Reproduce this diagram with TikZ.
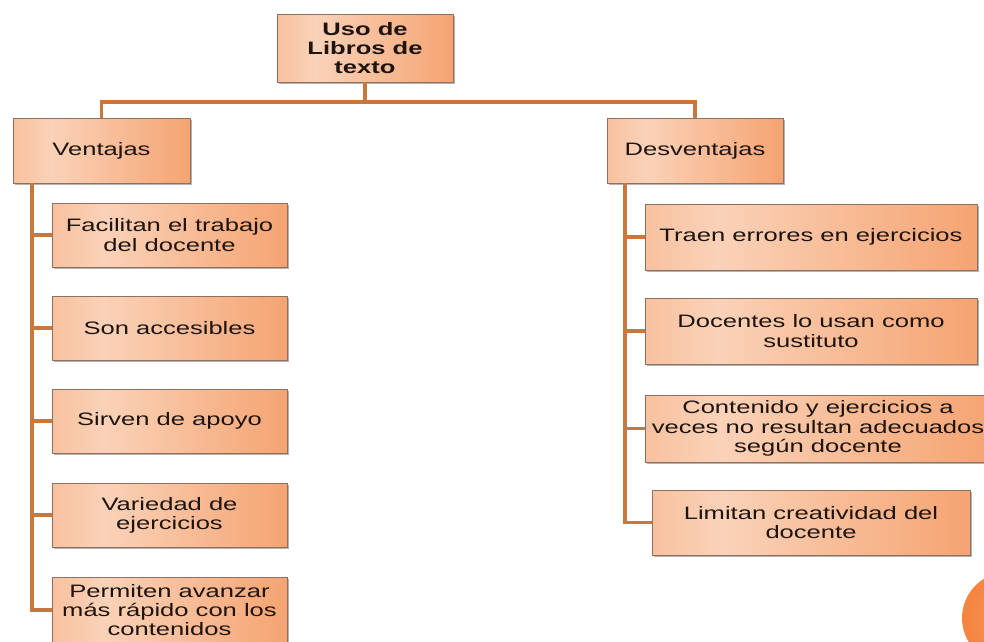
\documentclass[tikz,border=0pt]{standalone}
\usepackage{fontspec}
\setmainfont{Liberation Sans}
\newfontfamily\boxfont[FakeStretch=1.42]{Liberation Sans}
\usetikzlibrary{shadows,calc}
\definecolor{shA}{HTML}{F39A68}
\definecolor{shB}{HTML}{FAD2B8}
\definecolor{shC}{HTML}{F28645}
\definecolor{linec}{HTML}{C8773D}
\definecolor{txtc}{HTML}{1E140F}
\definecolor{bordc}{HTML}{8E7060}
\definecolor{dotc}{HTML}{F5843E}
\pgfdeclarehorizontalshading{boxshade}{100bp}{color(0bp)=(shA); color(36bp)=(shB); color(100bp)=(shC)}
\begin{document}
\begin{tikzpicture}[x=1pt,y=-1pt,
  boxnode/.style={draw=bordc, line width=0.9pt, shading=boxshade, inner sep=0pt,
    align=center, text=txtc, font=\boxfont\fontsize{18pt}{19.3pt}\selectfont,
    drop shadow={shadow xshift=1.6pt, shadow yshift=-2pt, opacity=0.4, fill=black!75}},
  conn/.style={draw=linec, line width=3.2pt}]
\useasboundingbox (0,0) rectangle (984,641);
\clip (0,0) rectangle (984,641);
% root
\node[boxnode, minimum width=176pt, minimum height=68pt, font=\boxfont\bfseries\fontsize{18pt}{19.3pt}\selectfont] (root) at (365,48) {Uso de\\Libros de\\texto};
% level 1
\node[boxnode, minimum width=177pt, minimum height=65pt] (ven) at (101.5,150.5) {Ventajas};
\node[boxnode, minimum width=176pt, minimum height=65pt] (des) at (695,150.5) {Desventajas};
% left children
\node[boxnode, minimum width=235pt, minimum height=64pt] (l1) at (169.5,235) {Facilitan el trabajo\\del docente};
\node[boxnode, minimum width=235pt, minimum height=64pt] (l2) at (169.5,328) {Son accesibles};
\node[boxnode, minimum width=235pt, minimum height=64pt] (l3) at (169.5,421) {Sirven de apoyo};
\node[boxnode, minimum width=235pt, minimum height=64pt] (l4) at (169.5,515) {Variedad de\\ejercicios};
\node[boxnode, minimum width=235pt, minimum height=66pt] (l5) at (169.5,610) {Permiten avanzar\\más rápido con los\\contenidos};
% right children
\node[boxnode, minimum width=332pt, minimum height=66pt] (r1) at (811,237) {Traen errores en ejercicios};
\node[boxnode, minimum width=332pt, minimum height=66pt] (r2) at (811,331) {Docentes lo usan como\\sustituto};
\node[boxnode, minimum width=346pt, minimum height=67pt] (r3) at (818,428.5) {Contenido y ejercicios a\\veces no resultan adecuados\\según docente};
\node[boxnode, minimum width=318pt, minimum height=65pt] (r4) at (811,522.5) {Limitan creatividad del\\docente};
% connectors
\coordinate (busL) at (101.5,102);
\coordinate (busR) at (695,102);
\coordinate (spL) at (32,183);
\coordinate (spR) at (625,183);
\draw[conn] (root.south) -- (root.south |- busL);
\draw[conn] (ven.north) -- (busL) -- (busR) -- (des.north);
\draw[conn] (spL) |- (l5.west);
\draw[conn] (spL |- l1.west) -- (l1.west);
\draw[conn] (spL |- l2.west) -- (l2.west);
\draw[conn] (spL |- l3.west) -- (l3.west);
\draw[conn] (spL |- l4.west) -- (l4.west);
\draw[conn] (spR) |- (r4.west);
\draw[conn] (spR |- r1.west) -- (r1.west);
\draw[conn] (spR |- r2.west) -- (r2.west);
\draw[conn] (spR |- r3.west) -- (r3.west);
% decorative circle
\shade[inner color=dotc!85, outer color=dotc] (1008,618) circle (46);
\end{tikzpicture}
\end{document}
